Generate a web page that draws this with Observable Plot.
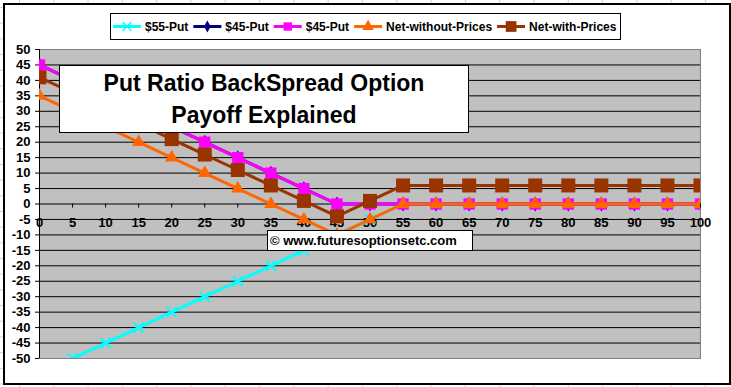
<!DOCTYPE html>
<html>
<head>
<meta charset="utf-8">
<script src="https://cdn.jsdelivr.net/npm/d3@7"></script>
<script src="https://cdn.jsdelivr.net/npm/@observablehq/plot@0.6"></script>
<style>
  html, body { margin: 0; padding: 0; }
  body {
    width: 731px; height: 387px; position: relative; overflow: hidden;
    background-color: #ffffff;
    background-image:
      linear-gradient(to right, #cfcfcf 1px, transparent 1px),
      linear-gradient(to bottom, #cfcfcf 1px, transparent 1px);
    background-size: 34.3px 15.7px;
    background-position: 19px 7px;
    font-family: "Liberation Sans", Arial, sans-serif;
  }
  #chartArea {
    position: absolute; left: 3px; top: 3px; width: 724px; height: 378px;
    border: 2px solid #000; background: #fff;
  }
  #plot { position: absolute; left: 0; top: 0; }
  #legend {
    position: absolute; left: 110px; top: 13px; width: 509px; height: 25px;
    border: 1px solid #000; background: #fff;
  }
  #title {
    position: absolute; left: 59px; top: 65px; width: 408px; height: 65px;
    border: 1px solid #000; background: #fff;
    font-weight: bold; font-size: 23px; line-height: 32px; text-align: center;
    padding-top: 1px; box-sizing: content-box;
  }
  #credit {
    position: absolute; left: 267px; top: 230px; width: 202px; height: 19px;
    border: 1px solid #000; background: #fff;
    font-weight: bold; font-size: 13px; line-height: 19px; padding-left: 2px;
    white-space: nowrap;
  }
</style>
</head>
<body>
<div id="chartArea"></div>
<div id="plot"></div>
<div id="legend"></div>
<div id="title"></div>
<div id="credit"></div>
<script>
// ---- data ----
const prices = [0,5,10,15,20,25,30,35,40,45,50,55,60,65,70,75,80,85,90,95,100];
const put55 = [-55,-50,-45,-40,-35,-30,-25,-20,-15,-10,-5,0,0,0,0,0,0,0,0,0,0];
const put45a = [45,40,35,30,25,20,15,10,5,0,0,0,0,0,0,0,0,0,0,0,0];
const put45b = [45,40,35,30,25,20,15,10,5,0,0,0,0,0,0,0,0,0,0,0,0];
const netWithout = [35,30,25,20,15,10,5,0,-5,-10,-5,0,0,0,0,0,0,0,0,0,0];
const netWith = [41,36,31,26,21,16,11,6,1,-4,1,6,6,6,6,6,6,6,6,6,6];
const yTicks = [50,45,40,35,30,25,20,15,10,5,0,-5,-10,-15,-20,-25,-30,-35,-40,-45,-50];
const xTicks = [0,5,10,15,20,25,30,35,40,45,50,55,60,65,70,75,80,85,90,95,100];
const seriesNames = ["$55-Put","$45-Put","$45-Put","Net-without-Prices","Net-with-Prices"];
const titleLines = ["Put Ratio BackSpread Option","Payoff Explained"];
const creditText = "\u00a9 www.futuresoptionsetc.com";

// ---- series styling ----
const seriesStyle = [
  {color: "#00ffff", symbol: "times", r: 4.6, fill: "none", sw: 2},
  {color: "#000080", symbol: "diamond", r: 4.5, fill: "#000080", sw: 0},
  {color: "#ff00ff", symbol: "square", r: 6.4, fill: "#ff00ff", sw: 0},
  {color: "#ff6600", symbol: "triangle", r: 5.0, fill: "#ff6600", sw: 0},
  {color: "#993300", symbol: "square", r: 7.9, fill: "#993300", sw: 0}
];
const seriesValues = [put55, put45a, put45b, netWithout, netWith];
const rows = seriesValues.map(vals => prices.map((x, i) => ({x, y: vals[i]})));

const seriesMarks = [];
rows.forEach((data, k) => {
  const s = seriesStyle[k];
  seriesMarks.push(Plot.line(data, {x: "x", y: "y", stroke: s.color, strokeWidth: 3, clip: true, strokeLinejoin: "miter"}));
  if (s.fill === "none") {
    seriesMarks.push(Plot.dot(data, {x: "x", y: "y", symbol: s.symbol, r: s.r, stroke: s.color, strokeWidth: s.sw, clip: true}));
  } else {
    seriesMarks.push(Plot.dot(data, {x: "x", y: "y", symbol: s.symbol, r: s.r, fill: s.fill, stroke: "none", clip: true}));
  }
});

const chart = Plot.plot({
  width: 731,
  height: 387,
  marginLeft: 39,
  marginRight: 31,
  marginTop: 49,
  marginBottom: 29,
  style: {background: "transparent", fontFamily: "'Liberation Sans', Arial, sans-serif", fontSize: "13px", fontWeight: "bold", color: "#000", overflow: "visible"},
  x: {domain: [0, 100], axis: null},
  y: {domain: [-50, 50]},
  marks: [
    Plot.frame({fill: "#c0c0c0", stroke: "#808080"}),
    Plot.ruleY(yTicks.filter(v => v > -50 && v < 50), {stroke: "#000", strokeWidth: 1}),
    Plot.ruleX([0], {stroke: "#000", strokeWidth: 1}),
    Plot.axisY({ticks: yTicks, tickSize: 4, tickPadding: 5, tickFormat: d => String(d), label: null, stroke: "#000", fill: "#000"}),
    Plot.ruleX(xTicks, {x: d => d, y1: 0, y2: -1.3, stroke: "#000"}),
    Plot.text(xTicks, {x: d => d, y: 0, dy: 19, text: d => String(d), fill: "#000", fontSize: 13, fontWeight: "bold"}),
    ...seriesMarks
  ]
});
document.getElementById("plot").appendChild(chart);

// ---- legend ----
const legend = d3.select("#legend").append("svg")
  .attr("width", 509).attr("height", 25)
  .style("display", "block");
let cx = 2;
seriesNames.forEach((name, k) => {
  const s = seriesStyle[k];
  const g = legend.append("g");
  g.append("line").attr("x1", cx).attr("x2", cx + 28).attr("y1", 12.5).attr("y2", 12.5)
    .attr("stroke", s.color).attr("stroke-width", 3);
  const symMap = {times: d3.symbolX, diamond: d3.symbolDiamond, square: d3.symbolSquare, triangle: d3.symbolTriangle};
  const sizeMap = [55, 40, 70, 60, 115];
  const sym = d3.symbol(symMap[s.symbol], sizeMap[k]);
  g.append("path").attr("d", sym()).attr("transform", `translate(${cx + 14},12.5)`)
    .attr("fill", s.fill === "none" ? "none" : s.fill)
    .attr("stroke", s.fill === "none" ? s.color : "none")
    .attr("stroke-width", 1.5);
  const t = g.append("text").attr("x", cx + 32).attr("y", 17)
    .attr("font-family", "'Liberation Sans', Arial, sans-serif")
    .attr("font-size", 12).attr("font-weight", "bold").attr("fill", "#000")
    .text(name);
  cx += 32 + t.node().getComputedTextLength() + 5;
});

// ---- title & credit ----
d3.select("#title").html(titleLines.map(l => `<div>${l}</div>`).join(""));
d3.select("#credit").text(creditText);
</script>
</body>
</html>
